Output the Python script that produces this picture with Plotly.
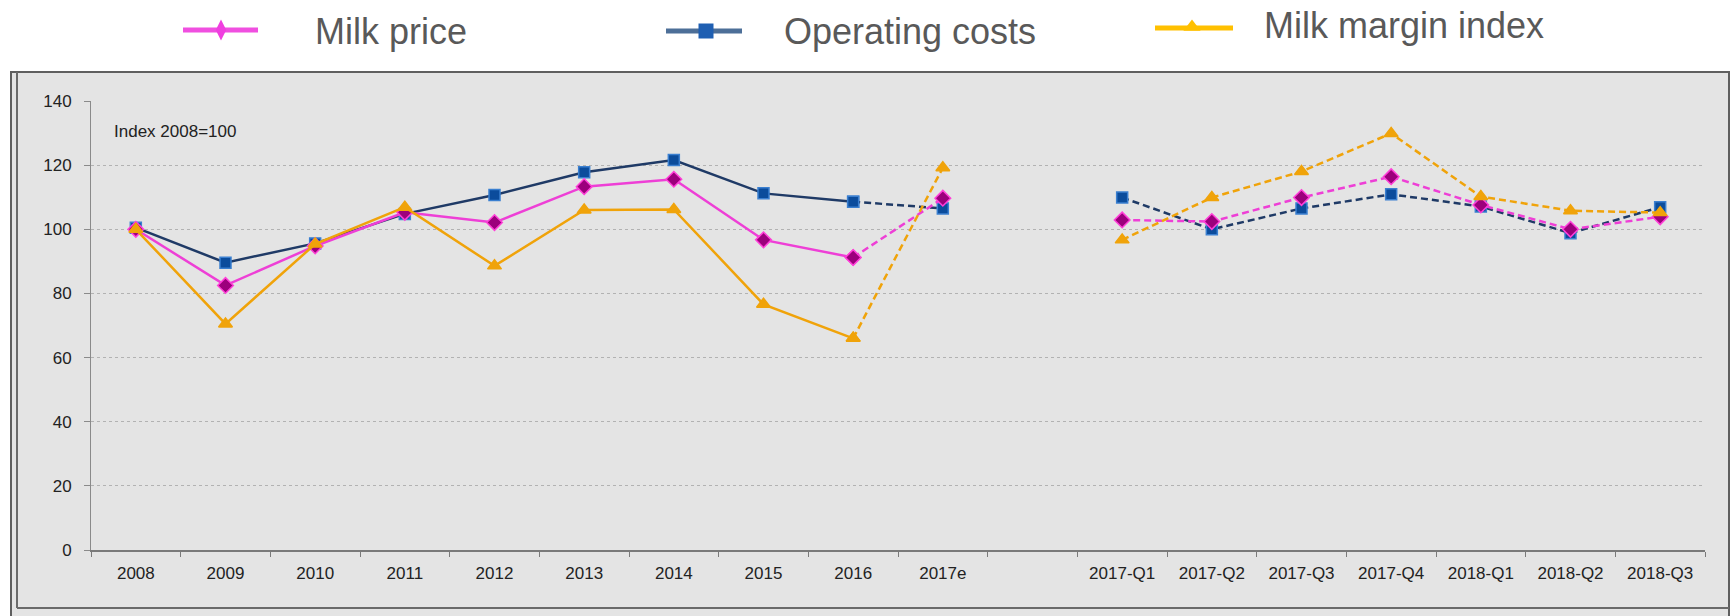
import plotly.graph_objects as go

# ---------------- data ----------------
annual_labels = ["2008", "2009", "2010", "2011", "2012", "2013", "2014", "2015", "2016"]
estimate_label = "2017e"
gap_label = " "
quarter_labels = ["2017-Q1", "2017-Q2", "2017-Q3", "2017-Q4", "2018-Q1", "2018-Q2", "2018-Q3"]
all_labels = annual_labels + [estimate_label, gap_label] + quarter_labels

milk_price_annual = [100.0, 82.5, 94.8, 105.3, 102.1, 113.3, 115.6, 96.7, 91.2]
milk_price_est = 109.7
milk_price_q = [102.9, 102.4, 109.9, 116.4, 107.6, 100.0, 103.9]

costs_annual = [100.5, 89.6, 95.6, 104.8, 110.7, 117.8, 121.6, 111.2, 108.6]
costs_est = 106.5
costs_q = [109.9, 100.0, 106.5, 110.9, 107.1, 98.8, 106.9]

margin_annual = [100.0, 70.5, 95.4, 106.9, 88.6, 106.0, 106.2, 76.6, 66.0]
margin_est = 119.2
margin_q = [96.7, 109.9, 118.0, 129.9, 110.2, 105.8, 105.2]

series_names = ["Milk price", "Operating costs", "Milk margin index"]
y_ticks = [0, 20, 40, 60, 80, 100, 120, 140]
note_text = "Index 2008=100"

# ---------------- geometry (page pixels; body margin removed below) ----------------
OFF = 0
W, H = 1731 - OFF, 616 - OFF
FONT = "Liberation Sans, Arial, sans-serif"


def px(x):
    return (x - OFF) / W


def py(y):
    return 1 - (y - OFF) / H


styles = {
    "Milk price": dict(line="#ee3fd6", mfill="#9c007c", medge="#ff3fd8", symbol="diamond", size=12,
                       leg_symbol="diamond-tall", leg_line="#f04fe0", leg_mark="#f03fe0"),
    "Operating costs": dict(line="#1f3a66", mfill="#0b4c9c", medge="#3a7fd0", symbol="square", size=11,
                            leg_symbol="square", leg_line="#4d6f98", leg_mark="#1f5fb2"),
    "Milk margin index": dict(line="#f0a30a", mfill="#f0a30a", medge="#f0a30a", symbol="triangle-up", size=12,
                              leg_symbol="triangle-up", leg_line="#ffc000", leg_mark="#ffc000"),
}
data = {
    "Milk price": (milk_price_annual, milk_price_est, milk_price_q),
    "Operating costs": (costs_annual, costs_est, costs_q),
    "Milk margin index": (margin_annual, margin_est, margin_q),
}

fig = go.Figure()

draw_order = ["Operating costs", "Milk price", "Milk margin index"]
for name in draw_order:
    ann, est, q = data[name]
    st = styles[name]
    marker = dict(symbol=st["symbol"], size=st["size"], color=st["mfill"],
                  line=dict(color=st["medge"], width=1.5))
    fig.add_trace(go.Scatter(x=annual_labels, y=ann, mode="lines+markers", name=name,
                             line=dict(color=st["line"], width=2.5), marker=marker,
                             showlegend=False, xaxis="x", yaxis="y"))
    fig.add_trace(go.Scatter(x=[annual_labels[-1], estimate_label], y=[ann[-1], est],
                             mode="lines+markers", name=name,
                             line=dict(color=st["line"], width=2.5, dash="7px,4px"), marker=marker,
                             showlegend=False, xaxis="x", yaxis="y"))
    fig.add_trace(go.Scatter(x=quarter_labels, y=q, mode="lines+markers", name=name,
                             line=dict(color=st["line"], width=2.5, dash="7px,4px"), marker=marker,
                             showlegend=False, xaxis="x", yaxis="y"))

# ---------------- manual legend (overlay axes in page-pixel space) ----------------
legend_layout = {
    "Milk price": dict(x0=183, x1=258, xm=221, y=30, ym=30, tx=313, ty=31),
    "Operating costs": dict(x0=666, x1=742, xm=706, y=31, ym=31, tx=782, ty=31),
    "Milk margin index": dict(x0=1155, x1=1233, xm=1192, y=28, ym=27, tx=1262, ty=25),
}
annotations = []
for name in series_names:
    st = styles[name]
    L = legend_layout[name]
    fig.add_trace(go.Scatter(x=[L["x0"], L["x1"]], y=[L["y"], L["y"]], mode="lines",
                             line=dict(color=st["leg_line"], width=5), hoverinfo="skip",
                             showlegend=False, xaxis="x2", yaxis="y2"))
    fig.add_trace(go.Scatter(x=[L["xm"]], y=[L["ym"]], mode="markers",
                             marker=dict(symbol=st["leg_symbol"], size=15, color=st["leg_mark"],
                                         line=dict(width=0)),
                             hoverinfo="skip", showlegend=False, xaxis="x2", yaxis="y2"))
    annotations.append(dict(text=name, xref="paper", yref="paper", x=px(L["tx"]), y=py(L["ty"]),
                            xanchor="left", yanchor="middle", showarrow=False,
                            font=dict(family=FONT, size=36, color="#595959")))

annotations.append(dict(text=note_text, xref="paper", yref="paper", x=px(112), y=py(131),
                        xanchor="left", yanchor="middle", showarrow=False,
                        font=dict(family=FONT, size=17, color="#222222")))

# ---------------- frame shapes ----------------
shapes = [
    dict(type="rect", xref="paper", yref="paper", x0=px(11), x1=px(1729), y0=-0.05, y1=py(72),
         fillcolor="#e4e4e4", line=dict(color="#5f5f5f", width=2), layer="below"),
    dict(type="line", xref="paper", yref="paper", x0=px(17), x1=px(17), y0=py(608), y1=py(72),
         line=dict(color="#6a6a6a", width=2), layer="below"),
    dict(type="line", xref="paper", yref="paper", x0=px(17), x1=px(1729), y0=py(608), y1=py(608),
         line=dict(color="#6a6a6a", width=2), layer="below"),
]

x_dom = [px(91), px(1705)]
y_dom = [py(550), py(101)]

fig.update_layout(
    width=W, height=H,
    margin=dict(l=0, r=0, t=0, b=0, autoexpand=False),
    paper_bgcolor="white",
    plot_bgcolor="rgba(0,0,0,0)",
    showlegend=False,
    font=dict(family=FONT, size=17, color="#222222"),
    shapes=shapes,
    annotations=annotations,
    xaxis=dict(domain=x_dom, type="category", categoryorder="array", categoryarray=all_labels,
               range=[-0.5, len(all_labels) - 0.5], tickmode="array", tickvals=all_labels,
               ticktext=all_labels, tickson="boundaries", ticks="outside", ticklen=5,
               tickcolor="#7a7a7a", showline=True, linecolor="#7a7a7a", linewidth=2,
               showgrid=False, zeroline=False, ticklabelstandoff=7, automargin=False,
               tickfont=dict(family=FONT, size=17, color="#222222"), anchor="y", fixedrange=True),
    yaxis=dict(domain=y_dom, range=[0, 140], tickmode="array", tickvals=y_ticks,
               ticks="outside", ticklen=6, tickcolor="#8a8a8a", showline=True, linecolor="#8a8a8a",
               linewidth=1, showgrid=True, gridcolor="#b2b2b2", griddash="dot", gridwidth=1,
               zeroline=False, ticklabelstandoff=9, automargin=False,
               tickfont=dict(family=FONT, size=17, color="#222222"), anchor="x", fixedrange=True),
    xaxis2=dict(domain=[0, 1], range=[OFF, OFF + W], visible=False, anchor="y2", fixedrange=True,
                automargin=False),
    yaxis2=dict(domain=[0, 1], range=[OFF + H, OFF], visible=False, anchor="x2", fixedrange=True,
                automargin=False),
)

fig.write_html(
    "out.html",
    config={"displayModeBar": False, "staticPlot": True},
    post_script="document.body.style.margin='0';document.body.style.overflow='hidden';",
)
